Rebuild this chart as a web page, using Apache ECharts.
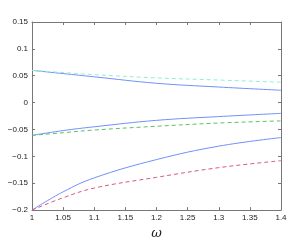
<!DOCTYPE html>
<html><head><meta charset="utf-8">
<script src="https://cdn.jsdelivr.net/npm/echarts@6/dist/echarts.min.js"></script>
<style>html,body{margin:0;padding:0;background:#fff}#c{width:302px;height:245px}</style>
</head><body><div id="c"></div>
<script>
const omega = [1.0, 1.05, 1.1, 1.2, 1.3, 1.4];
const upperSolid = [0.060, 0.054, 0.048, 0.036, 0.029, 0.023];
const upperDashed = [0.060, 0.056, 0.052, 0.046, 0.042, 0.038];
const midSolid = [-0.061, -0.052, -0.045, -0.033, -0.026, -0.020];
const midDashed = [-0.061, -0.056, -0.051, -0.044, -0.038, -0.034];
const lowSolid = [-0.200, -0.166, -0.140, -0.106, -0.081, -0.065];
const lowDashed = [-0.200, -0.177, -0.159, -0.139, -0.121, -0.108];

const pairs = ys => omega.map((x, i) => [x, ys[i]]);
const fmt = v => (v < 0 ? '\u2212' : '') + String(Math.abs(+v.toFixed(2)));
const axisLine = {show: true, onZero: false, lineStyle: {color: '#777', width: 1}};
const tick = {show: true, inside: true, length: 3, lineStyle: {color: '#777'}};
const lbl = {color: '#222', fontSize: 8, fontFamily: 'Liberation Sans'};

function line(data, color, dashed) {
  return {type: 'line', data: pairs(data), smooth: 0.4, symbol: 'none',
    lineStyle: {color, width: 1, type: dashed ? [4, 3] : 'solid'}, z: dashed ? 3 : 2};
}

const chart = echarts.init(document.getElementById('c'));
chart.setOption({
  animation: false,
  grid: {left: 32, right: 21, top: 22, bottom: 28},
  xAxis: [
    {type: 'value', min: 1, max: 1.4, interval: 0.05, position: 'bottom',
     axisLine, axisTick: tick, splitLine: {show: false},
     axisLabel: Object.assign({}, lbl, {margin: 4, formatter: v => String(+v.toFixed(2))}),
     name: 'ω', nameLocation: 'middle', nameGap: 16,
     nameTextStyle: {fontSize: 13, fontStyle: 'italic', fontFamily: 'DejaVu Serif', color: '#222'}},
    {type: 'value', min: 1, max: 1.4, interval: 0.05, position: 'top',
     axisLine, axisTick: tick, splitLine: {show: false}, axisLabel: {show: false}}
  ],
  yAxis: [
    {type: 'value', min: -0.2, max: 0.15, interval: 0.05, position: 'left',
     axisLine, axisTick: tick, splitLine: {show: false},
     axisLabel: Object.assign({}, lbl, {margin: 4, formatter: fmt})},
    {type: 'value', min: -0.2, max: 0.15, interval: 0.05, position: 'right',
     axisLine, axisTick: tick, splitLine: {show: false}, axisLabel: {show: false}}
  ],
  series: [
    line(upperDashed, '#8ff0d0', true),
    line(upperSolid, '#7090f8', false),
    line(midDashed, '#5cc060', true),
    line(midSolid, '#7090f8', false),
    line(lowDashed, '#d85a80', true),
    line(lowSolid, '#7090f8', false)
  ]
});
</script></body></html>
